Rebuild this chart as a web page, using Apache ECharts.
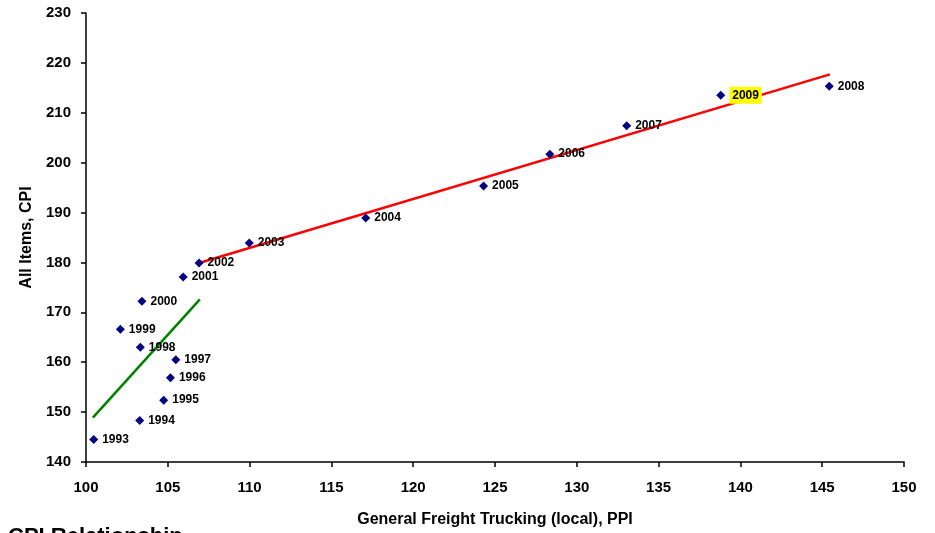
<!DOCTYPE html>
<html>
<head>
<meta charset="utf-8">
<script src="https://cdn.jsdelivr.net/npm/echarts@6/dist/echarts.min.js"></script>
<style>
html,body{margin:0;padding:0;background:#fff;}
#chart{width:935px;height:533px;}
</style>
</head>
<body>
<div id="chart"></div>
<script>
var years = ['1993','1994','1995','1996','1997','1998','1999','2000','2001','2002','2003','2004','2005','2006','2007','2008','2009'];
var ppi = [100.47,103.28,104.75,105.16,105.49,103.32,102.1,103.42,105.94,106.91,109.98,117.1,124.3,128.35,133.05,145.43,138.8];
var cpi = [144.5,148.3,152.4,156.9,160.5,163.0,166.6,172.2,177.1,179.9,183.9,188.9,195.3,201.7,207.4,215.3,213.5];
var redTrendX = [106.91,145.47];
var redTrendY = [179.9,217.7];
var greenTrendX = [100.42,106.96];
var greenTrendY = [148.9,172.6];
var highlightYear = '2009';

var font = '"Liberation Sans", Arial, sans-serif';
var pts = years.map(function(y,i){
  var d = {value:[ppi[i],cpi[i],y]};
  if (y === highlightYear) {
    d.label = {backgroundColor:'#ffff00', padding:[3,3,2,3]};
  }
  return d;
});
function pairs(xs,ys){return xs.map(function(x,i){return [x,ys[i]];});}

var chart = echarts.init(document.getElementById('chart'));
chart.setOption({
  animation:false,
  backgroundColor:'#fff',
  grid:{left:86,right:31,top:13,bottom:70},
  xAxis:{
    type:'value',min:100,max:150,interval:5,
    name:'General Freight Trucking (local), PPI',
    nameLocation:'middle',nameGap:50,
    nameTextStyle:{fontFamily:font,fontWeight:'bold',fontSize:16,color:'#000'},
    axisLine:{onZero:false,lineStyle:{color:'#000',width:1.5}},
    axisTick:{length:5,lineStyle:{color:'#000',width:1.5}},
    axisLabel:{fontFamily:font,fontWeight:'bold',fontSize:15,color:'#000',margin:18},
    splitLine:{show:false}
  },
  yAxis:{
    type:'value',min:140,max:230,interval:10,
    name:'All Items, CPI',
    nameLocation:'middle',nameGap:44,
    nameTextStyle:{fontFamily:font,fontWeight:'bold',fontSize:16,color:'#000'},
    axisLine:{show:true,onZero:false,lineStyle:{color:'#000',width:1.5}},
    axisTick:{show:true,length:5,lineStyle:{color:'#000',width:1.5}},
    axisLabel:{fontFamily:font,fontWeight:'bold',fontSize:15,color:'#000',margin:15},
    splitLine:{show:false}
  },
  series:[
    {type:'line',data:pairs(redTrendX,redTrendY),symbol:'none',
     lineStyle:{color:'#ff0000',width:2.5},z:3},
    {type:'line',data:pairs(greenTrendX,greenTrendY),symbol:'none',
     lineStyle:{color:'#008000',width:2.5},z:3},
    {type:'scatter',data:pts,symbol:'diamond',symbolSize:9,
     itemStyle:{color:'#000080',opacity:1},z:4,
     label:{show:true,position:'right',distance:4,
       formatter:function(p){return p.value[2];},
       fontFamily:font,fontWeight:'bold',fontSize:12,color:'#000',opacity:1}}
  ],
  graphic:[
    {type:'text',left:8,top:526,style:{text:'CPI Relationship',font:'bold 22px "Liberation Sans", Arial, sans-serif',fill:'#000'}}
  ]
});
</script>
</body>
</html>
